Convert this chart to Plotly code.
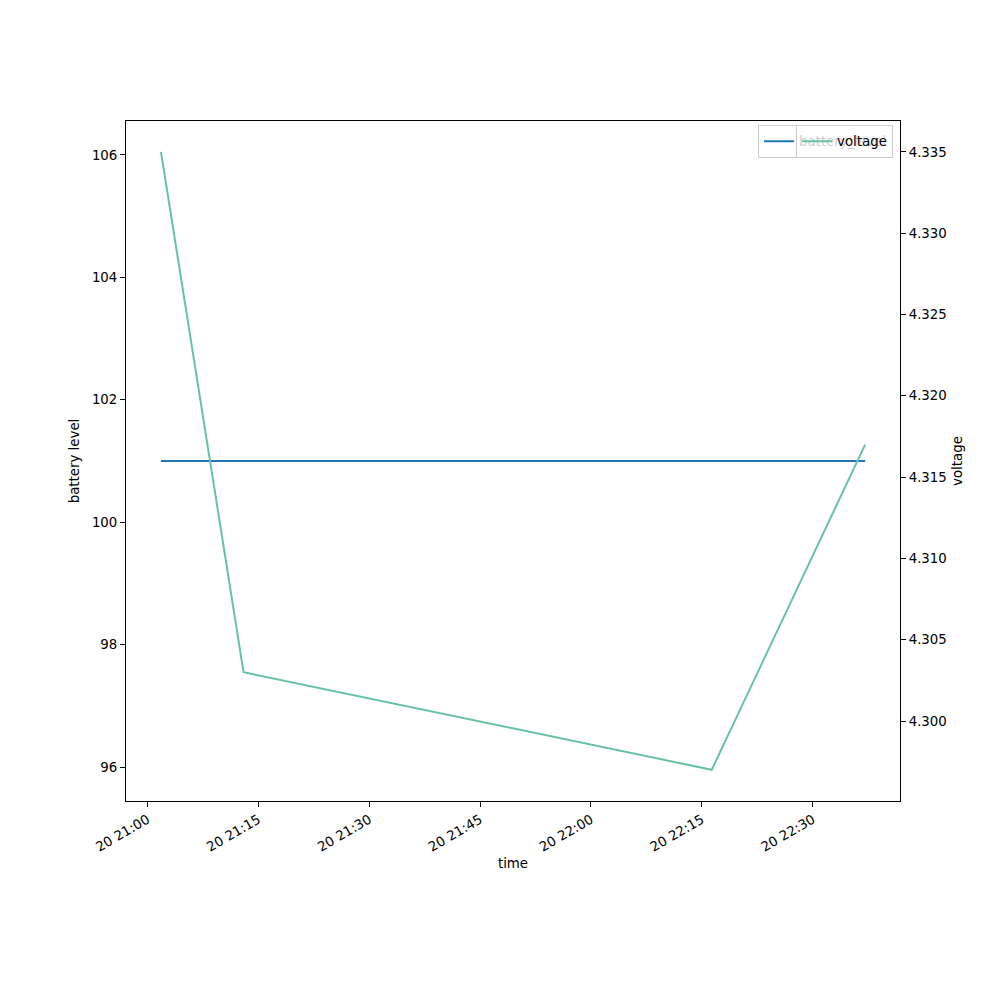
import plotly.graph_objects as go

times = ["2023-01-20 21:01:50", "2023-01-20 21:13:00", "2023-01-20 22:16:20", "2023-01-20 22:37:05"]
battery_level = [101, 101, 101, 101]
voltage = [4.335, 4.303, 4.297, 4.317]

font = dict(family="DejaVu Sans", size=13.33, color="black")

fig = go.Figure()
fig.add_trace(go.Scatter(x=times, y=battery_level, mode="lines", name="battery_level",
                         line=dict(color="#1f77b4", width=2), legend="legend", yaxis="y",
                         showlegend=True))
fig.add_trace(go.Scatter(x=times, y=voltage, mode="lines", name="voltage",
                         line=dict(color="#66c2a5", width=2), legend="legend2", yaxis="y2",
                         showlegend=True))

axis_common = dict(showline=True, linecolor="black", linewidth=1, ticks="outside", ticklen=5,
                   tickcolor="black", showgrid=False, zeroline=False, tickfont=font,
                   automargin=False)

fig.update_layout(
    width=1000, height=1000,
    margin=dict(l=118, r=108, t=113, b=207, autoexpand=False),
    plot_bgcolor="white", paper_bgcolor="white",
    font=font,
    showlegend=True,
    xaxis=dict(**axis_common, mirror=True, type="date",
               range=["2023-01-20 20:57:06", "2023-01-20 22:41:48"],
               tick0="2023-01-20 21:00:00", dtick=900000, tickformat="%d %H:%M", tickangle=-30,
               title=dict(text="time", font=font, standoff=5)),
    yaxis=dict(**axis_common, range=[95.445, 106.555], tickvals=[96, 98, 100, 102, 104, 106],
               title=dict(text="battery level", font=font, standoff=9)),
    yaxis2=dict(**axis_common, overlaying="y", side="right", range=[4.29508, 4.3369],
                tickvals=[4.300, 4.305, 4.310, 4.315, 4.320, 4.325, 4.330, 4.335], tickformat=".3f",
                title=dict(text="voltage", font=font, standoff=6)),
    legend=dict(x=0.991, y=0.994, xanchor="right", yanchor="top", bgcolor="rgba(255,255,255,0.8)",
                bordercolor="#cccccc", borderwidth=1, font=font, visible=True),
    legend2=dict(x=0.991, y=0.994, xanchor="right", yanchor="top", bgcolor="rgba(255,255,255,0.8)",
                 bordercolor="#cccccc", borderwidth=1, font=font, visible=True),
)

fig.write_html("out.html")
